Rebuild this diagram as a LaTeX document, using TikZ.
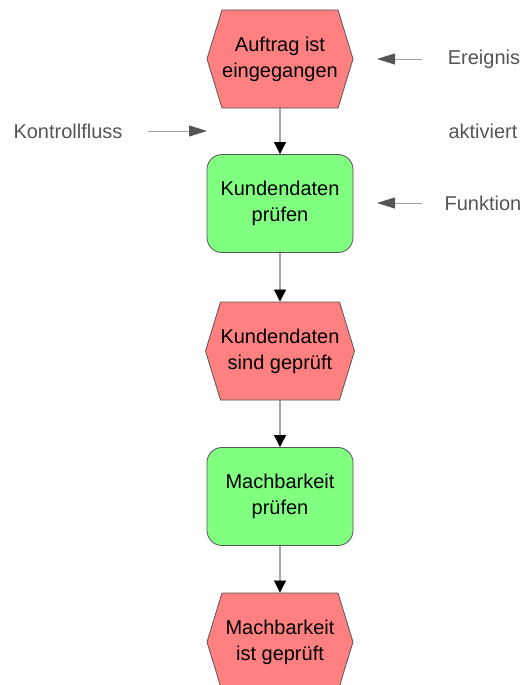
\documentclass[tikz,border=0pt]{standalone}
\usepackage{fontspec}
\setmainfont{Liberation Sans}
\usetikzlibrary{shapes.symbols,arrows.meta}

\definecolor{ereignisrot}{HTML}{FF8080}
\definecolor{funktionsgruen}{HTML}{80FF80}
\definecolor{randgrau}{HTML}{555555}
\definecolor{textgrau}{HTML}{555555}
\definecolor{liniengrau}{HTML}{A0A0A0}

\begin{document}
\begin{tikzpicture}[x=1pt,y=-1pt]
		\tikzstyle{every node}+=[font=\fontsize{20}{26}\selectfont]
		\tikzstyle{ereignis}=[signal, signal to=east and west, signal pointer angle=146, draw=randgrau, line width=0.8pt, fill=ereignisrot, minimum width=146, minimum height=98, inner sep=0pt, align=center]
		\tikzstyle{funktion}=[rectangle, rounded corners=15, draw=randgrau, line width=0.8pt, fill=funktionsgruen, minimum width=146, minimum height=98, inner sep=0pt, align=center]
		\tikzstyle{fluss}=[draw=black, line width=0.8pt, -{Triangle[length=12pt,width=12pt]}]
		\tikzstyle{legende}=[text=textgrau]
		\tikzstyle{zeiger}=[draw=liniengrau, line width=0.8pt, -{Triangle[length=18pt,width=11pt,color=textgrau]}]
		\useasboundingbox (0,0) rectangle (523,685);
		% Prozesskette
		\node [ereignis] (auftrag) at (280,59) {Auftrag ist\\eingegangen};
		\node [funktion] (kdpruefen) at (280,203.5) {Kundendaten\\prüfen};
		\node [ereignis] (kdgeprueft) at (280,351) {Kundendaten\\sind geprüft};
		\node [funktion] (mbpruefen) at (280,496.5) {Machbarkeit\\prüfen};
		\node [ereignis] (mbgeprueft) at (280,642) {Machbarkeit\\ist geprüft};
		\draw [fluss] (auftrag) -- (kdpruefen);
		\draw [fluss] (kdpruefen) -- (kdgeprueft);
		\draw [fluss] (kdgeprueft) -- (mbpruefen);
		\draw [fluss] (mbpruefen) -- (mbgeprueft);
		% Legende
		\node [legende] (ereignis) at (484,59) {Ereignis};
		\node [legende] (kontrollfluss) at (68,131) {Kontrollfluss};
		\node [legende] (aktiviert) at (483,131) {aktiviert};
		\node [legende] (funktion) at (483,203) {Funktion};
		\coordinate (ereignisA) at (422,59);
		\coordinate (ereignisB) at (377,59);
		\coordinate (flussA) at (148,131);
		\coordinate (flussB) at (207,131);
		\coordinate (funktionA) at (422,203);
		\coordinate (funktionB) at (377,203);
		\draw [zeiger] (ereignisA) -- (ereignisB);
		\draw [zeiger] (flussA) -- (flussB);
		\draw [zeiger] (funktionA) -- (funktionB);
\end{tikzpicture}
\end{document}
